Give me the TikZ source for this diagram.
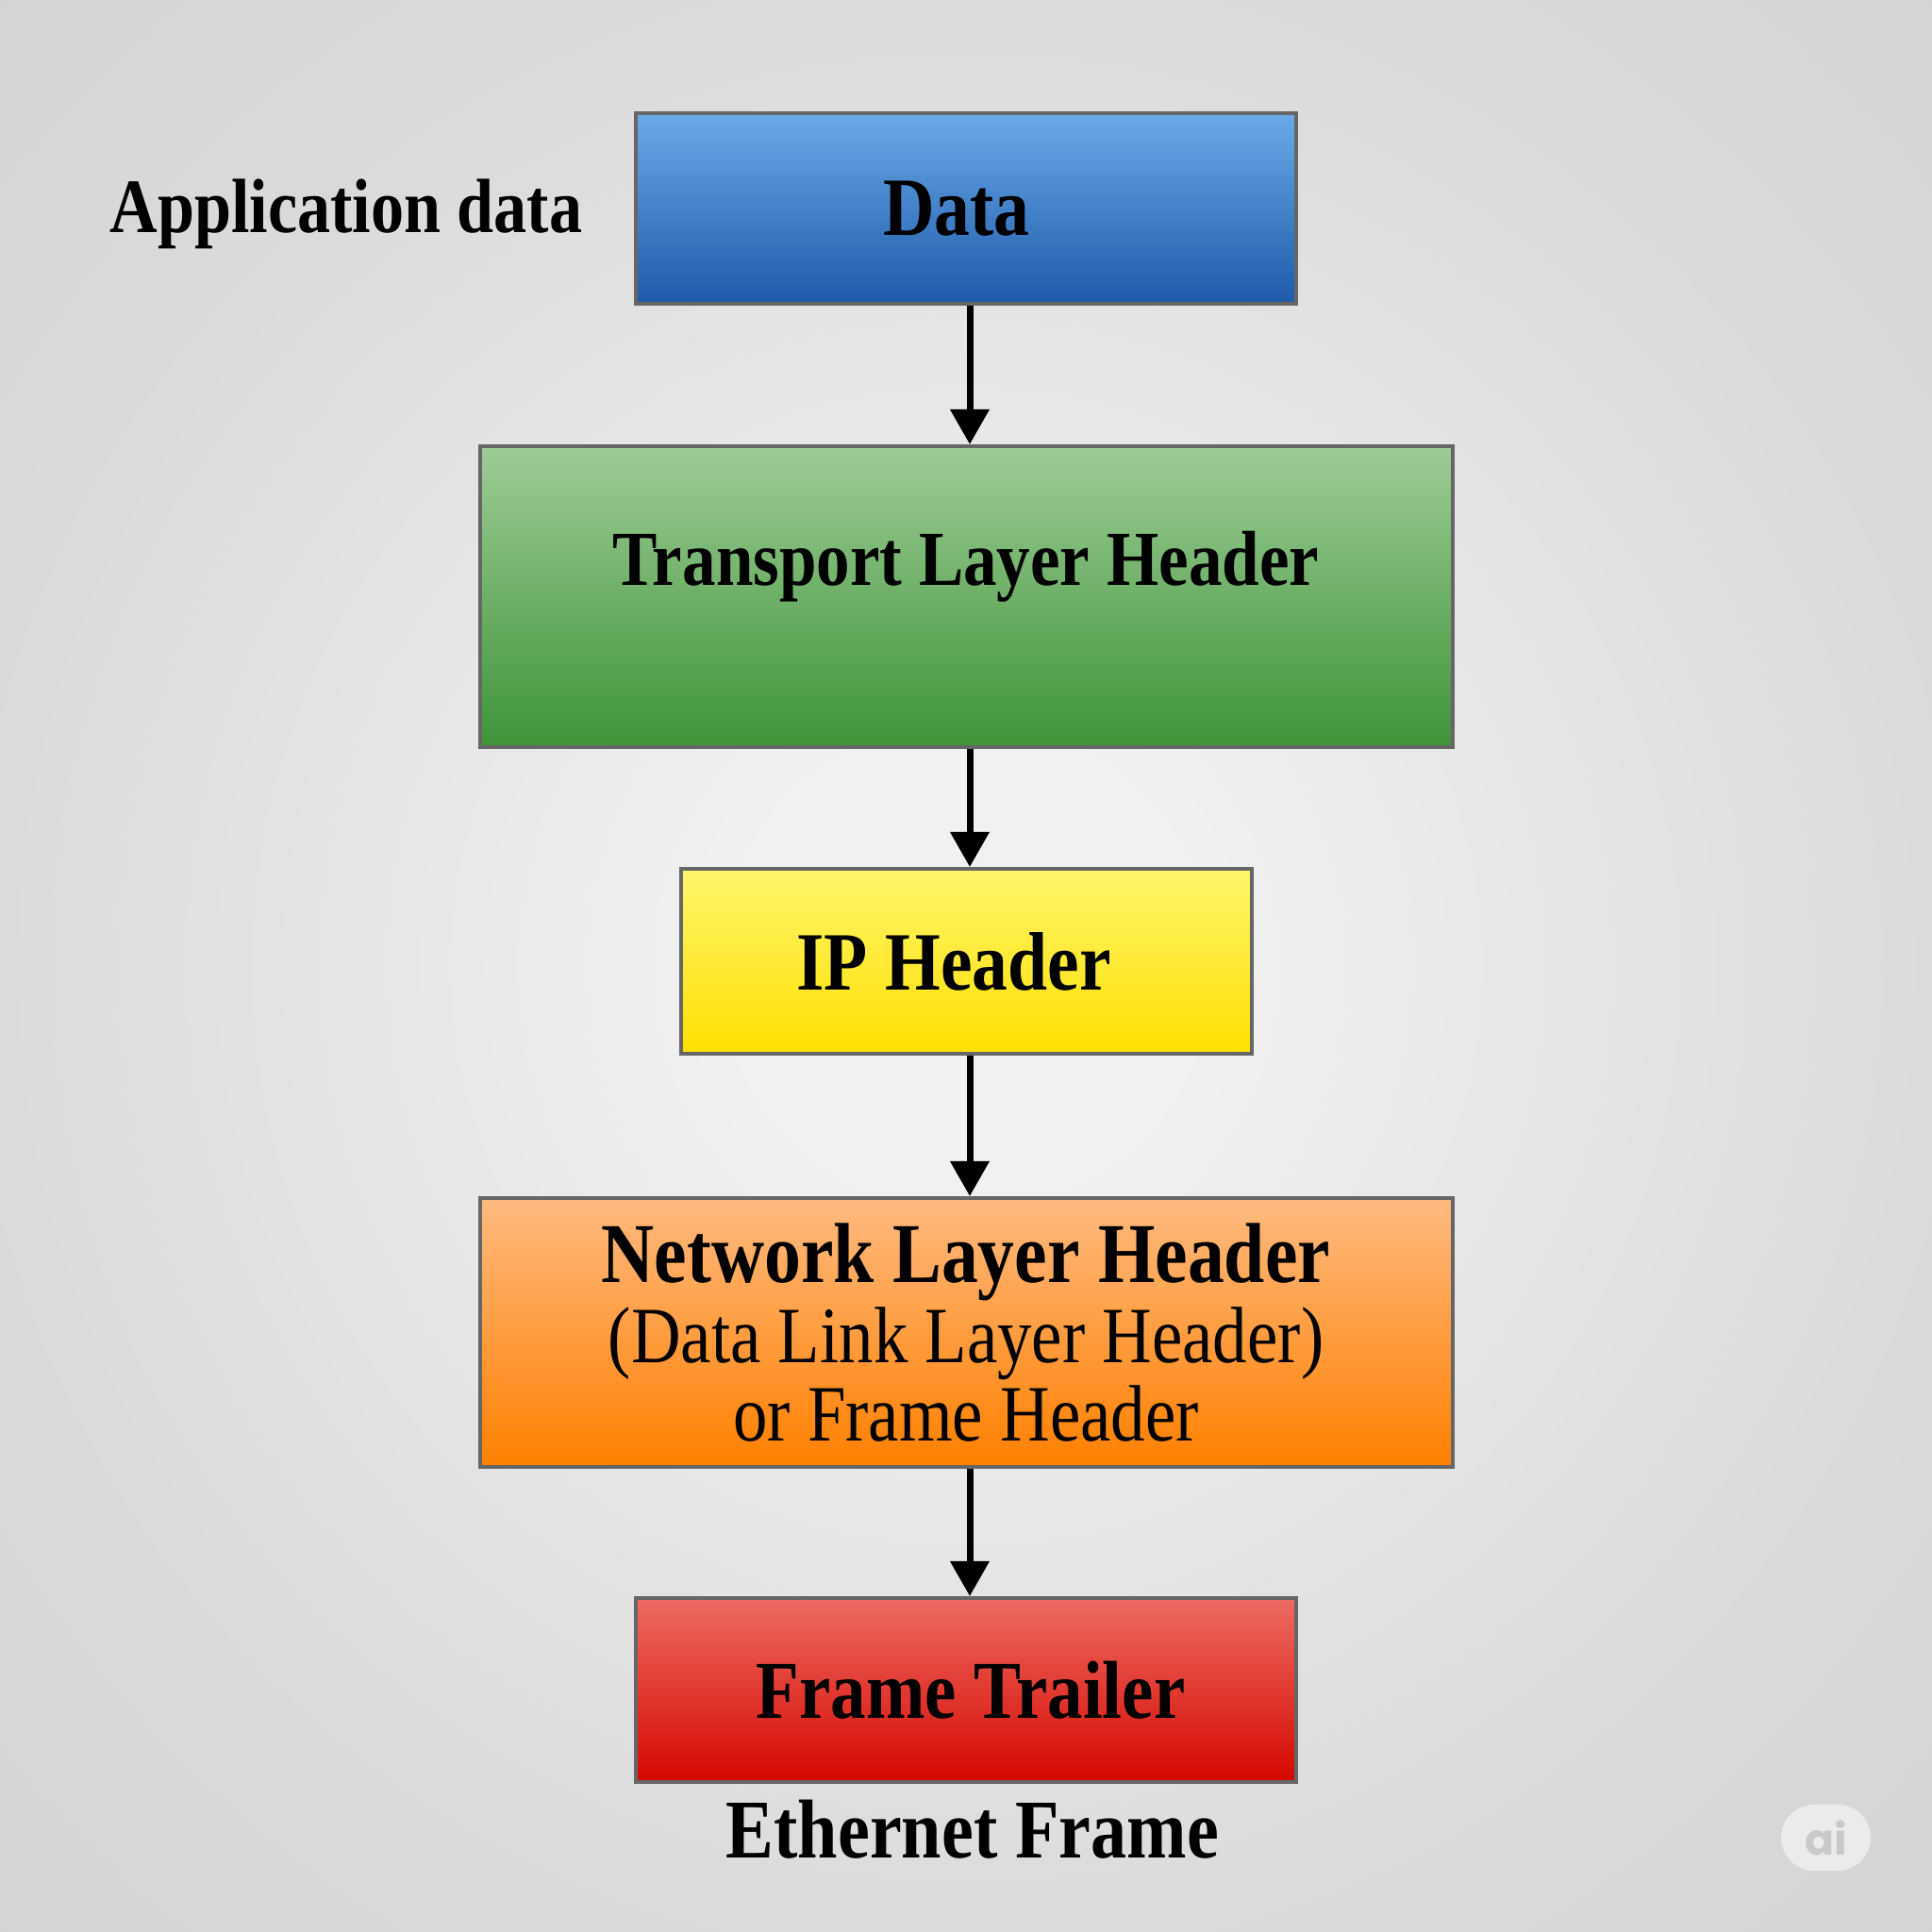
\documentclass[tikz,border=0pt]{standalone}
\usepackage{fontspec}
\setmainfont{Liberation Serif}
\newfontfamily\lblfont[FakeStretch=0.86]{Liberation Serif}
\newfontfamily\badgefont{Poppins}
\usepackage{tikz}
\usetikzlibrary{calc,arrows.meta,positioning}

\definecolor{bgin}{HTML}{F1F1F1}
\definecolor{bgout}{HTML}{DBDBDB}
\definecolor{bgcorner}{HTML}{D4D4D4}
\definecolor{boxline}{HTML}{666666}
\definecolor{bluetop}{HTML}{6AAAE8}
\definecolor{bluebot}{HTML}{1E5AAA}
\definecolor{greentop}{HTML}{9ECC96}
\definecolor{greenbot}{HTML}{3E9439}
\definecolor{yellowtop}{HTML}{FFF56C}
\definecolor{yellowbot}{HTML}{FFE000}
\definecolor{orangetop}{HTML}{FFBA80}
\definecolor{orangebot}{HTML}{FF8000}
\definecolor{redtop}{HTML}{EE6B63}
\definecolor{redbot}{HTML}{D40800}
\definecolor{badgefill}{HTML}{EBEBEB}
\definecolor{badgetext}{HTML}{C9C9C9}

\pgfdeclareradialshading{paper}{\pgfpoint{0bp}{0bp}}{color(0bp)=(bgin); color(6bp)=(bgin); color(25bp)=(bgout); color(36bp)=(bgcorner); color(50bp)=(bgcorner)}

\tikzset{
    box/.style={draw=boxline, line width=0.4mm, inner sep=0pt},
    lbl/.style={inner sep=0pt, font=\lblfont\bfseries\fontsize{#1}{#1}\selectfont},
    lbl/.default=24pt,
    arr/.style={line width=0.7mm, -{Triangle[width=4mm,length=3.7mm]}}
}

\begin{document}
\begin{tikzpicture}
        \useasboundingbox (0,0) rectangle (20.48,20.48);
        \shade[shading=paper] (0,0) rectangle (20.48,20.48);
        \node[box, minimum width=7cm, minimum height=2.02cm, top color=bluetop, bottom color=bluebot,
            label={[lbl=25pt, xshift=-1mm]center:Data}] (data) at (10.24,18.27) {};
        \node[lbl=23.2pt, anchor=base east] (appdata) at (6.18,18.01) {Application data};
        \node[box, minimum width=10.31cm, minimum height=3.19cm, top color=greentop, bottom color=greenbot] (tlh) at (10.24,14.155) {};
        \node[lbl=23.5pt, anchor=base] (tlhtext) at ([yshift=-15mm]tlh.north) {Transport Layer Header};
        \node[box, minimum width=6.05cm, minimum height=1.96cm, top color=yellowtop, bottom color=yellowbot,
            label={[lbl=25pt, xshift=-1.3mm]center:IP Header}] (ip) at (10.24,10.29) {};
        \node[box, minimum width=10.31cm, minimum height=2.85cm, top color=orangetop, bottom color=orangebot, align=center, font=\lblfont\fontsize{24.1pt}{23.8pt}\selectfont] (nlh) at (10.24,6.355)
            {{\bfseries\fontsize{25.7pt}{23.8pt}\selectfont Network Layer Header}\\[0.4pt](Data Link Layer Header)\\or Frame Header};
        \node[box, minimum width=7cm, minimum height=1.95cm, top color=redtop, bottom color=redbot,
            label={[lbl=24.8pt, xshift=0.5mm]center:Frame Trailer}] (ft) at (10.24,2.565) {};
        \node[lbl=25.2pt, below=1.6mm of ft, xshift=0.7mm] (eth) {Ethernet Frame};
        \foreach \a/\b in {data/tlh,tlh/ip,ip/nlh,nlh/ft}
            \draw[arr] ([xshift=0.4mm]\a.south) -- ([xshift=0.4mm]\b.north);
        \node[fill=badgefill, rounded corners=3.5mm, minimum width=9.5mm, minimum height=7mm, inner sep=0pt, text=badgetext, font=\badgefont\bfseries\fontsize{13pt}{13pt}\selectfont] (badge) at (19.355,1.0) {ai};
    \end{tikzpicture}
\end{document}
